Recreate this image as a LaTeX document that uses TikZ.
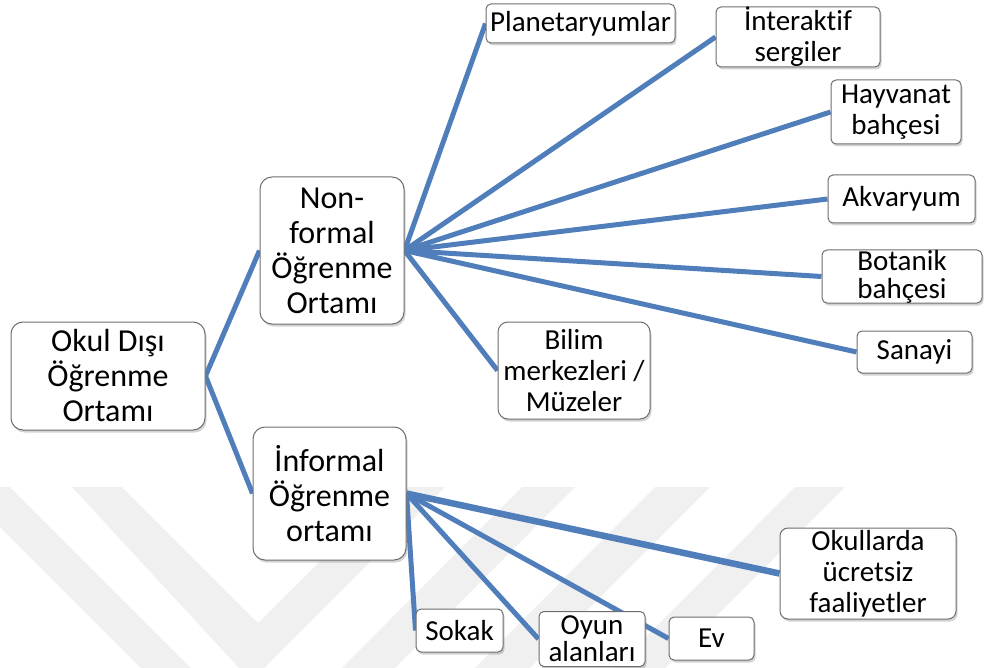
\documentclass[tikz,border=0pt]{standalone}
\usepackage{fontspec}
\setmainfont{Carlito}[Ligatures=NoCommon]
\usetikzlibrary{shadows,backgrounds}

\definecolor{linkblue}{RGB}{79,126,186}
\definecolor{boxgray}{RGB}{110,110,110}

\tikzset{
  box/.style={rectangle, draw=boxgray, line width=1pt, fill=white, align=center,
    inner sep=0pt, drop shadow={opacity=0.35, shadow xshift=1.5pt, shadow yshift=-2.5pt}},
  bigbox/.style={box, rounded corners=12pt, font=\fontsize{32}{35}\selectfont},
  leafbox/.style={box, rounded corners=5pt, font=\fontsize{29}{31}\selectfont},
  link/.style={draw=linkblue, line width=5pt},
  mark band/.style={fill=black!6},
}

\begin{document}
\begin{tikzpicture}[x=1pt,y=-1pt]
  \useasboundingbox (0,0) rectangle (984,668);

  %ROOT
  \node [bigbox, minimum width=194, minimum height=108] (root) at (108,376) {Okul Dışı\\Öğrenme\\Ortamı};

  %MIDDLE
  \node [bigbox, minimum width=144, minimum height=147] (nonformal) at (332,250.5) {Non-\\formal\\Öğrenme\\Ortamı};
  \node [bigbox, minimum width=153, minimum height=133] (informal) at (329.5,493.5) {İnformal\\Öğrenme\\ortamı};

  %NON-FORMAL LEAVES
  \node [leafbox, minimum width=189, minimum height=39] (planet) at (580.5,23.5) {Planetaryumlar};
  \node [leafbox, minimum width=164, minimum height=60] (sergi) at (798,37) {İnteraktif\\sergiler};
  \node [leafbox, minimum width=130, minimum height=64] (hayvanat) at (896,112) {Hayvanat\\bahçesi};
  \node [leafbox, minimum width=147, minimum height=48] (akvaryum) at (901.5,199) {Akvaryum};
  \node [leafbox, minimum width=160, minimum height=53, font=\fontsize{29}{28}\selectfont] (botanik) at (902,276.5) {Botanik\\bahçesi};
  \node [leafbox, minimum width=115, minimum height=42] (sanayi) at (914.5,352) {Sanayi};
  \node [leafbox, rounded corners=10pt, minimum width=152, minimum height=97] (bilim) at (574,370.5) {Bilim\\merkezleri /\\Müzeler};

  %INFORMAL LEAVES
  \node [leafbox, rounded corners=8pt, minimum width=176, minimum height=91] (okullar) at (868,573.5) {Okullarda\\ücretsiz\\faaliyetler};
  \node [leafbox, minimum width=87, minimum height=43] (sokak) at (459.5,630.5) {Sokak};
  \node [leafbox, minimum width=106, minimum height=55, font=\fontsize{29}{27}\selectfont] (oyun) at (592,639) {Oyun\\alanları};
  \node [leafbox, minimum width=85, minimum height=43] (ev) at (711.5,638.5) {Ev};

  \begin{scope}[on background layer]
    % watermark
    \fill[mark band] (-40,487) -- (10,487) -- (191,668) -- (141,668) -- cycle;
    \fill[mark band] (72,487) -- (122,487) -- (258,623) -- (395,487) -- (445,487)
      -- (251,681) -- cycle;
    \fill[mark band] (522,487) -- (575,487) -- (395,668) -- (342,668) -- cycle;
    \fill[mark band] (655,487) -- (710,487) -- (530,668) -- (475,668) -- cycle;
    \fill[mark band] (795,487) -- (845,487) -- (665,668) -- (615,668) -- cycle;

    % links
    \draw [link] (root.east) -- (nonformal.west);
    \draw [link] (root.east) -- (informal.west);
    \foreach \leaf in {planet, sergi, hayvanat, akvaryum, botanik, sanayi, bilim}
      \draw [link] (nonformal.east) -- (\leaf.west);
    \foreach \leaf in {sokak, oyun, ev}
      \draw [link] (informal.east) -- (\leaf.west);
    \draw [link, line width=6.5pt] (informal.east) -- (okullar.west);
  \end{scope}
\end{tikzpicture}
\end{document}
